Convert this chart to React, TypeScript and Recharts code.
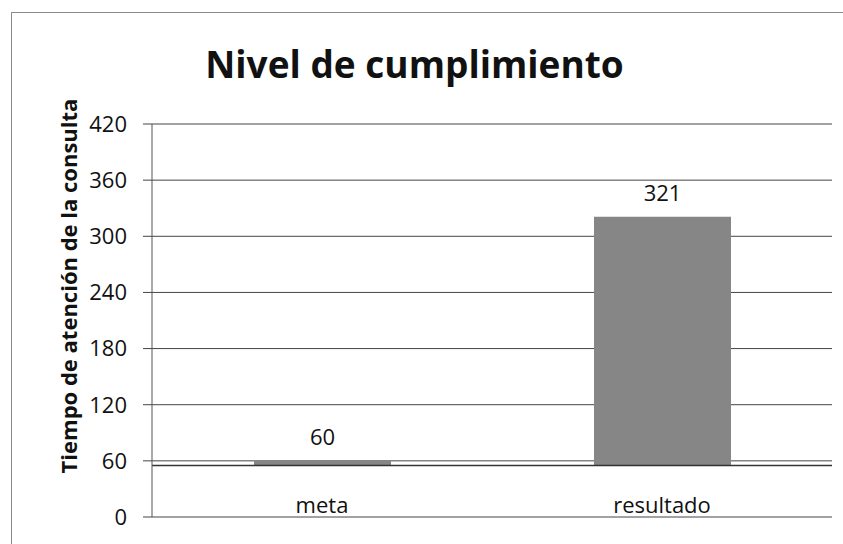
import { Bar, BarChart, CartesianGrid, LabelList, ReferenceLine, XAxis, YAxis } from 'recharts'

const categories = ['meta', 'resultado']
const values = [60, 321]
const axisBase = 55
const yTicks = [0, 60, 120, 180, 240, 300, 360, 420]

const data = categories.map((name, i) => ({ name, value: values[i], range: [axisBase, values[i]] }))

const font = '"Open Sans", "Noto Sans", sans-serif'

function CategoryTick({ x, y, payload }: any) {
  return (
    <text x={x} y={y} dy={-12} textAnchor="middle" fill="#111" fontSize={22} fontFamily={font}>
      {payload.value}
    </text>
  )
}

export default function App() {
  return (
    <div style={{ position: 'absolute', left: 0, top: 0, width: 843, height: 544, background: '#fff' }}>
      <div
        style={{
          position: 'absolute',
          left: 11,
          top: 12,
          right: 0,
          bottom: 0,
          borderTop: '1px solid #8a8a8a',
          borderLeft: '1px solid #8a8a8a',
        }}
      />
      <div
        style={{
          position: 'absolute',
          left: 0,
          width: 843,
          top: 38,
          textAlign: 'center',
          fontFamily: font,
          fontWeight: 700,
          fontSize: 37,
          color: '#111',
          paddingRight: 14,
          boxSizing: 'border-box',
        }}
      >
        Nivel de cumplimiento
      </div>
      <div
        style={{
          position: 'absolute',
          left: 68,
          top: 286,
          transform: 'translate(-50%, -50%) rotate(-90deg)',
          whiteSpace: 'nowrap',
          fontFamily: font,
          fontWeight: 700,
          fontSize: 22,
          color: '#111',
        }}
      >
        Tiempo de atención de la consulta
      </div>
      <BarChart
        width={843}
        height={544}
        data={data}
        margin={{ top: 124, right: 11, bottom: 0, left: 0 }}
        style={{ position: 'absolute', left: 0, top: 0 }}
      >
        <CartesianGrid stroke="#444" vertical={false} />
        <XAxis
          dataKey="name"
          axisLine={false}
          tickLine={false}
          height={27}
          tick={<CategoryTick />}
          interval={0}
        />
        <YAxis
          domain={[0, 420]}
          ticks={yTicks}
          width={152}
          axisLine={{ stroke: '#555' }}
          tickLine={{ stroke: '#444' }}
          tickSize={9}
          tickMargin={16}
          tick={{ fill: '#111', fontSize: 22, fontFamily: font }}
          interval={0}
        />
        <ReferenceLine y={axisBase} stroke="#333" strokeWidth={1.5} />
        <Bar dataKey="range" fill="#868686" barSize={137} isAnimationActive={false}>
          <LabelList dataKey="value" position="top" offset={16} fill="#111" fontSize={22} fontFamily={font} />
        </Bar>
      </BarChart>
    </div>
  )
}
